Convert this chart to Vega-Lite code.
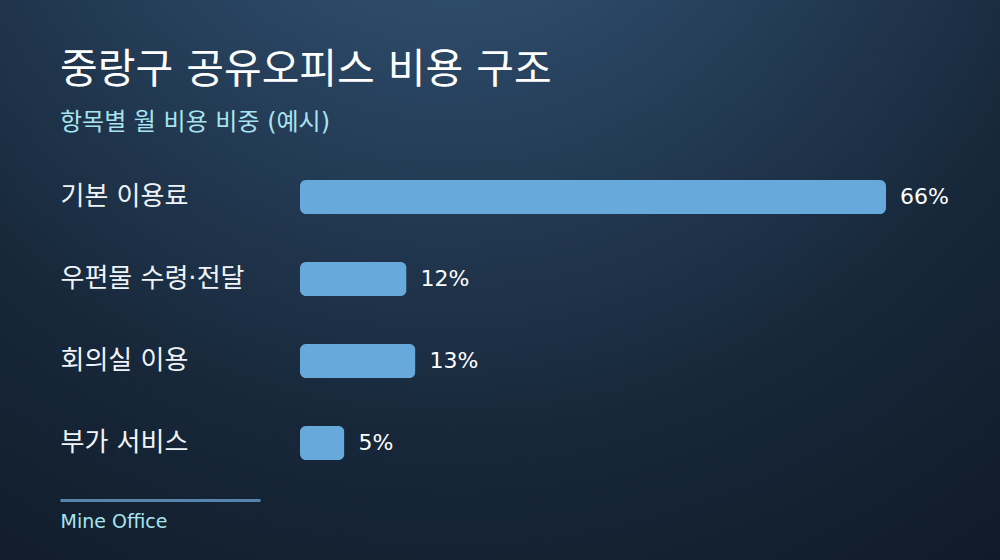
{
  "$schema": "https://vega.github.io/schema/vega-lite/v6.json",
  "width": 1000,
  "height": 560,
  "autosize": "none",
  "padding": 0,
  "background": "#132233",
  "data": {
    "values": [
      {"item": "기본 이용료", "share": 66, "label": "66%"},
      {"item": "우편물 수령·전달", "share": 12, "label": "12%"},
      {"item": "회의실 이용", "share": 13, "label": "13%"},
      {"item": "부가 서비스", "share": 5, "label": "5%"}
    ]
  },
  "title": {
    "text": "중랑구 공유오피스 비용 구조",
    "subtitle": "항목별 월 비용 비중 (예시)",
    "anchor": "start",
    "frame": "group",
    "offset": -139,
    "dx": 60,
    "fontSize": 41,
    "fontWeight": "normal",
    "color": "#ffffff",
    "subtitleColor": "#a8e4ef",
    "subtitleFontSize": 24,
    "subtitlePadding": 19
  },
  "encoding": {
    "y": {
      "field": "item",
      "type": "nominal",
      "sort": null,
      "scale": {"range": [156, 484], "paddingInner": 0.585, "paddingOuter": 0.2927},
      "axis": {
        "title": null,
        "orient": "left",
        "domain": false,
        "ticks": false,
        "labelAlign": "left",
        "labelBaseline": "middle",
        "labelPadding": -60,
        "labelLimit": 0,
        "labelFontSize": 26,
        "labelColor": "#f0f4f8"
      }
    }
  },
  "layer": [
    {
      "mark": {"type": "bar", "cornerRadius": 6, "color": "#68a9dc"},
      "encoding": {
        "x": {
          "field": "share",
          "type": "quantitative",
          "scale": {"domain": [0, 66], "range": [300, 886]},
          "axis": null
        }
      }
    },
    {
      "mark": {"type": "text", "align": "left", "baseline": "middle", "dx": 14, "fontSize": 22, "color": "#ffffff"},
      "encoding": {
        "x": {"field": "share", "type": "quantitative", "scale": {"domain": [0, 66], "range": [300, 886]}, "axis": null},
        "text": {"field": "label"}
      }
    },
    {
      "data": {"values": [{"pos": 0, "source": "Mine Office"}]},
      "mark": {"type": "point", "opacity": 0},
      "encoding": {
        "y": {"value": 0},
        "x": {
          "field": "pos",
          "type": "quantitative",
          "scale": {"domain": [0, 1], "range": [60, 260]},
          "axis": {
            "orient": "bottom",
            "offset": -60,
            "title": "Mine Office",
            "titleAnchor": "start",
            "titleAlign": "left",
            "titleColor": "#a8e4ef",
            "titleFontSize": 19,
            "titleFontWeight": "normal",
            "titlePadding": 12,
            "domainColor": "#5585ad",
            "domainWidth": 3,
            "labels": false,
            "ticks": false,
            "grid": false
          }
        }
      }
    }
  ],
  "resolve": {"scale": {"x": "independent"}},
  "config": {
    "font": "'DejaVu Sans', 'Noto Sans CJK KR'",
    "view": {
      "stroke": null,
      "fill": {
        "gradient": "radial",
        "x1": 0.45, "y1": 0, "r1": 0,
        "x2": 0.45, "y2": 0, "r2": 0.95,
        "stops": [
          {"offset": 0, "color": "#385d81"},
          {"offset": 0.35, "color": "#27415d"},
          {"offset": 0.7, "color": "#172739"},
          {"offset": 1, "color": "#101b29"}
        ]
      }
    }
  }
}
